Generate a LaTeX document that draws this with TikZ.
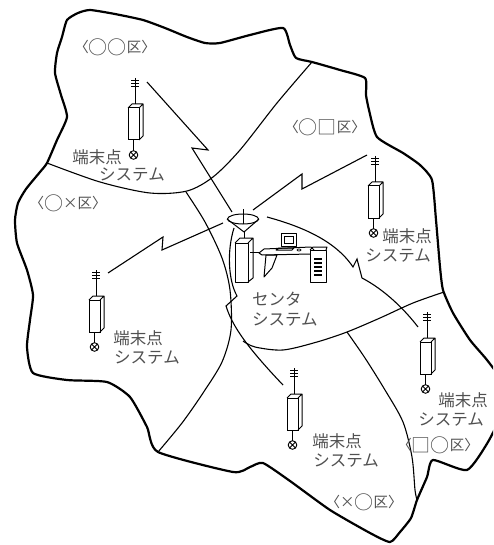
\documentclass[tikz,border=0pt]{standalone}
\usepackage{fontspec}
\newfontfamily\jp{Noto Sans CJK JP}
\definecolor{txtgray}{RGB}{80,80,80}
\usetikzlibrary{calc,shapes.geometric}
% large geometric symbols inside the ward names
\newcommand\wbig[1]{\raisebox{-1.6pt}{\fontsize{19}{19}\selectfont #1}}
\tikzset{
  terminal/.pic={
    % antenna mast with three cross bars
    \draw[line width=0.9pt] (0,-30) -- (0,-4);
    \foreach \yy in {-28,-25,-22} \draw[line width=0.9pt] (-4,\yy) -- (4,\yy);
    % cabinet drawn as a small box
    \draw[line width=1pt, fill=white] (-7,0) rectangle (4,32);
    \draw[line width=1pt, line join=round] (-7,0) -- (-3,-4) -- (8,-4) -- (4,0)
                                           (8,-4) -- (8,28) -- (4,32);
    % lead down to the lamp symbol
    \draw[line width=0.9pt] (-1.5,32) -- (-1.5,43);
    \draw[line width=0.9pt] (-1.5,47) circle (4.3)
         ($(-1.5,47)+(-3,-3)$) -- ++(6,6)
         ($(-1.5,47)+(-3,3)$) -- ++(6,-6);
    \coordinate (-top) at (0,-30);
  }
}
\begin{document}
\begin{tikzpicture}[x=1pt,y=-1pt,
  border/.style={line width=2.2pt, line join=round},
  divide/.style={line width=1.1pt},
  bolt/.style={line width=1.1pt, line join=miter},
  unit/.style={line width=1pt, line join=round},
  lbl/.style={font=\jp\fontsize{16.5}{16.5}\selectfont, text=txtgray, inner sep=0pt},
  area/.style={font=\jp\fontsize{14.5}{14.5}\selectfont, text=txtgray, inner sep=0pt}]
\useasboundingbox (0,0) rectangle (493,545);
\clip (0,0) rectangle (493,545);

% outer boundary of the whole district
\draw[border] plot[smooth cycle, tension=0.35] coordinates {
  (67,20) (78,13) (90,10) (115,14) (143,20) (165,28) (187,37) (205,43) (220,43)
  (250,35) (283,28) (290,45) (296,58) (312,62) (340,70) (365,78) (366,95)
  (369,110) (377,137) (403,153) (420,165) (432,180) (436,220) (440,267)
  (443,290) (453,313) (470,340) (487,360) (502,382) (502,412) (488,442)
  (467,470) (433,460) (427,477) (417,500) (411,518) (400,532) (390,542)
  (370,533) (330,510) (290,481) (263,463) (250,467) (233,472) (158,452)
  (147,427) (130,397) (107,382) (67,380) (33,373) (27,347) (30,320) (33,295)
  (27,270) (17,243) (15,220) (18,203) (26,189) (40,172) (47,163) (57,140)
  (67,117) (61,95) (55,73) (57,53) (62,37)};

% ward borders
\draw[divide] plot[smooth, tension=0.5] coordinates {
  (47,163) (100,182) (150,193) (187,191) (213,177) (240,150) (277,103) (312,62)};
\draw[divide] plot[smooth, tension=0.5] coordinates {
  (186,192) (205,222) (222,258) (230,290) (231,330) (222,362) (203,393) (182,423) (158,452)};
\draw[divide] plot[smooth, tension=0.5] coordinates {
  (243,341) (255,347) (283,350) (317,342) (347,332) (380,318) (413,303) (444,292)};
\draw[divide] plot[smooth, tension=0.5] coordinates {
  (347,332) (365,358) (385,390) (403,422) (412,457) (415,490) (417,500)};

% terminal stations
\pic (t1) at (135,108) {terminal};
\pic (t2) at (375,186) {terminal};
\pic (t3) at (96,300) {terminal};
\pic (t4) at (294,398) {terminal};
\pic (t5) at (427,342) {terminal};

% centre station: dish, mast and rack
\node[draw, line width=1pt, ellipse, minimum width=31pt, minimum height=10pt, inner sep=0pt]
  (dish) at (243,219) {};
\draw[unit] (dish.west) -- (244,232) -- (dish.east);
\draw[unit] (243,209) -- (243,224) (244,232) -- (244,238);
\draw[unit, fill=white] (235,243) rectangle (248,282);
\draw[unit] (235,243) -- (240,238) -- (253,238) -- (248,243) (253,238) -- (253,278) -- (248,282);
% workstation on a desk
\draw[unit] (250,252) -- (260,252);
\draw[unit] (259,253) -- (264,249) -- (311,247) -- (314,250) -- (311,254) -- (262,255) -- cycle;
\draw[unit] (266,255) -- (277,255) -- (272,268) -- (264,277) -- cycle;
\draw[unit] (281,233) rectangle (296,246);
\draw[line width=0.7pt] (284,236) rectangle (293,243);
\draw[unit] (276,250) -- (279,248) -- (294,248) -- (292,250) -- cycle;
\draw[line width=0.7pt] (299,250) ellipse (2 and 1);
\draw[unit, fill=white] (310,250) rectangle (326,282);
\draw[unit] (310,250) -- (313,247) -- (327,247) -- (326,250);
\foreach \yy in {259,263,267,271,275} \draw[line width=1.2pt] (314,\yy) -- (322,\yy);

% radio links
\coordinate (a1) at (147,82);  \coordinate (b1) at (232,212);
\coordinate (a2) at (367,155); \coordinate (b2) at (253,210);
\coordinate (a3) at (108,273); \coordinate (b3) at (223,223);
\coordinate (a4) at (283,385); \coordinate (b4) at (234,228);
\coordinate (a5) at (418,327); \coordinate (b5) at (267,217);
\draw[bolt] (a1) -- (208,150) -- (192,148) -- (b1);
\draw[bolt] (b2) -- (302,174) -- (302,189) -- (a2);
\draw[bolt] (a3) -- (163,237) -- (162,250) -- (b3);
\draw[bolt] (b4) .. controls (227,250) and (228,280) .. (237,296) -- (226,306)
  .. controls (232,325) and (245,345) .. (a4);
\draw[bolt] (b5) .. controls (300,226) and (335,240) .. (353,267) -- (357,259)
  -- (362,278) .. controls (385,290) and (405,310) .. (a5);

% ward names
\node[area] (w1) at (115,47) {〈\wbig{○}\wbig{○}区〉};
\node[area] (w2) at (325,127) {〈\wbig{○}\wbig{□}区〉};
\node[area] (w3) at (68,203) {〈\wbig{○}×区〉};
\node[area] (w4) at (364,502) {〈×\wbig{○}区〉};
\node[area] (w5) at (438,445) {〈\wbig{□}\wbig{○}区〉};

% station names
\node[lbl] (n1a) at (97,157) {端末点};
\node[lbl] (n1b) at (132,175) {システム};
\node[lbl] (n2a) at (407,236) {端末点};
\node[lbl] (n2b) at (398,256) {システム};
\node[lbl] (n3a) at (138,338) {端末点};
\node[lbl] (n3b) at (147,358) {システム};
\node[lbl] (n4a) at (337,441) {端末点};
\node[lbl] (n4b) at (346,461) {システム};
\node[lbl] (n5a) at (463,400) {端末点};
\node[lbl] (n5b) at (451,420) {システム};
\node[lbl, anchor=west] (c1) at (252,299) {センタ};
\node[lbl, anchor=west] (c2) at (252,320) {システム};
\end{tikzpicture}
\end{document}
